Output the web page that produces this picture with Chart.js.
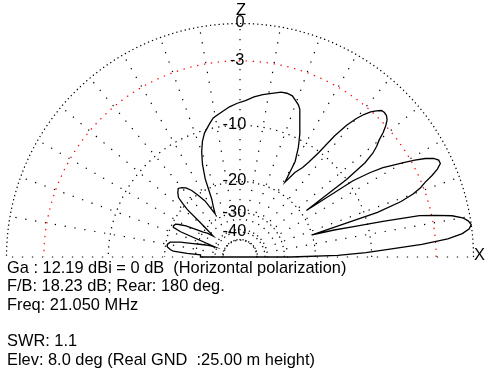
<!DOCTYPE html>
<html><head><meta charset="utf-8">
<script src="https://cdn.jsdelivr.net/npm/chart.js@4/dist/chart.umd.min.js"></script>
<style>
html,body{margin:0;padding:0;background:#fff;}
#wrap{position:relative;width:489px;height:383px;overflow:hidden;}
canvas{position:absolute;left:0;top:0;}
</style></head><body>
<div id="wrap"><canvas id="c" width="489" height="383"></canvas></div>
<script>
// ---- data (elevation angle in degrees, gain in dB relative to max) ----
const elevDeg = [0,1,2,3,4,5,6,7,8,9,10,11,12,13,14,15,16,17,
  18,19,20,21,22,23,24,25,26,27,28,29,30,31,32,33,34,35,
  36,37,38,39,40,41,42,43,44,45,46,47,48,49,50,51,52,53,54,55,57,59,
  60,62,64,66,68,69,72,74,76,79,82,85,88,91,94,97,100,101,103,106,108,110,112,114,116,118,120,
  122,124,126,128,130,132,134,136,137,138,139,140,142,
  144,146,147,150,152,153,155,156,157,158,
  160,162,164,166,168,170,172,174,175,176,177,180];
const gainDb = [-28,-16,-11,-8,-4.5,-2,-0.8,-0.2,0,-0.2,-0.6,-1.4,-2.7,-4.3,-8.3,-12.5,-16,-20,
  -8.6,-5.8,-4.3,-3.3,-2.7,-2.0,-1.4,-1.0,-1.0,-1.3,-1.9,-2.7,-3.8,-5.0,-6.0,-7.5,-9.5,-19,
  -10,-7.3,-6,-5.2,-4.6,-3.7,-3.0,-2.6,-2.4,-2.35,-2.4,-2.7,-3.1,-3.8,-4.7,-5.9,-7.6,-10.2,-12.5,-14,-15.5,-17.9,
  -13.8,-11.3,-9.5,-8.3,-7.0,-6.6,-5.9,-5.8,-5.85,-6.2,-6.5,-6.85,-7.3,-7.6,-7.95,-8.4,-8.8,-8.95,-9.5,-10.5,-11.8,-13.5,-15.6,-18.2,-23.5,-26,-28.3,
  -23,-20.5,-18.8,-17.8,-17.3,-17.0,-17.5,-18.2,-19.5,-21.5,-27,-30,-35.4,
  -32,-30,-28.9,-24.2,-22,-21,-20.6,-20.8,-23.5,-39,
  -35.5,-32,-28.6,-24.4,-21.3,-20.6,-20.6,-21.8,-22.7,-27.2,-32.5,-32.5];

// grid rings (dB) and their labels, spokes (deg)
const ringDb = [0, -3, -10, -20, -30, -40, -50];
const ringLabels = ['0', '-3', '-10', '-20', '-30', '-40', ''];
const spokeDeg = [0,10,20,30,40,50,60,70,80,90,100,110,120,130,140,150,160,170,180];
const axisLabels = ['Z', 'X'];
const infoLines = [
  'Ga : 12.19 dBi = 0 dB  (Horizontal polarization)',
  'F/B: 18.23 dB; Rear: 180 deg.',
  'Freq: 21.050 MHz',
  '',
  'SWR: 1.1',
  'Elev: 8.0 deg (Real GND  :25.00 m height)'
];

// ---- radial scale (log-like, as in the reference): dB -> fraction of outer radius ----
const scaleDb   = [0, -3, -10, -20, -30, -40, -50];
const scaleFrac = [1, 0.84, 0.564, 0.323, 0.19, 0.107, 0.072];
function dbToR(db) {
  if (db >= scaleDb[0]) return scaleFrac[0];
  for (let i = 1; i < scaleDb.length; i++) {
    if (db >= scaleDb[i]) {
      const t = (scaleDb[i-1] - db) / (scaleDb[i-1] - scaleDb[i]);
      return scaleFrac[i-1] + t * (scaleFrac[i] - scaleFrac[i-1]);
    }
  }
  return scaleFrac[scaleFrac.length - 1];
}
function polar(deg, r) {
  const a = deg * Math.PI / 180;
  return {x: r * Math.cos(a), y: r * Math.sin(a)};
}

// ---- layout ----
const W = 489, H = 383, CX = 240, CY = 257, R = 233.5;

const patternPts = elevDeg.map((d, i) => polar(d, dbToR(gainDb[i])));
patternPts.push(patternPts[0]);

const ringDash = [[1.3,3],[1.4,5.6],[1.3,5.2],[1.3,4.2],[1.3,3.7],[1.3,3.7],[1.3,3.7]];
const datasets = [{
  data: patternPts, showLine: true, borderColor: '#000', borderWidth: 1.3,
  pointRadius: 0, tension: 0, fill: false
}];
ringDb.forEach((db, k) => {
  const pts = [];
  for (let a = 0; a <= 180; a += 1) pts.push(polar(a, dbToR(db)));
  datasets.push({data: pts, showLine: true, borderColor: db === -3 ? '#ff0000' : '#000',
    borderWidth: 1.2, borderDash: ringDash[k], pointRadius: 0, tension: 0});
});
const innerR = dbToR(ringDb[ringDb.length - 1]);
spokeDeg.forEach(a => {
  datasets.push({data: [polar(a, innerR), polar(a, 1)], showLine: true, borderColor: '#000',
    borderWidth: 1.2, borderDash: [1.3, 8.7], pointRadius: 0});
});

const FONT = "16.4px 'Liberation Sans', Arial, sans-serif";
const textPlugin = {
  id: 'texts',
  afterDraw(chart) {
    const ctx = chart.ctx, xs = chart.scales.x, ys = chart.scales.y;
    ctx.save();
    ctx.fillStyle = '#000';
    ctx.font = FONT;
    ctx.textBaseline = 'alphabetic';
    ctx.textAlign = 'center';
    const x0 = xs.getPixelForValue(0);
    ringDb.forEach((db, k) => {
      const lab = ringLabels[k];
      if (!lab) return;
      const py = ys.getPixelForValue(dbToR(db));
      ctx.fillText(lab, x0 - (lab.length - 1) * 2.8, py + 3.9);
    });
    ctx.fillText(axisLabels[0], x0 + 1, ys.getPixelForValue(1) - 9);
    ctx.fillText(axisLabels[1], xs.getPixelForValue(1) + 6, ys.getPixelForValue(0) + 3);
    ctx.textAlign = 'left';
    infoLines.forEach((t, i) => { if (t) ctx.fillText(t, 7, 273 + i * 18.3); });
    ctx.restore();
  }
};

new Chart(document.getElementById('c'), {
  type: 'scatter',
  data: {datasets},
  options: {
    responsive: false, animation: false, events: [],
    layout: {padding: 0},
    plugins: {legend: {display: false}, tooltip: {enabled: false}},
    scales: {
      x: {type: 'linear', min: -CX / R, max: (W - CX) / R, display: false},
      y: {type: 'linear', min: -(H - CY) / R, max: CY / R, display: false}
    }
  },
  plugins: [textPlugin]
});
</script>
</body></html>
